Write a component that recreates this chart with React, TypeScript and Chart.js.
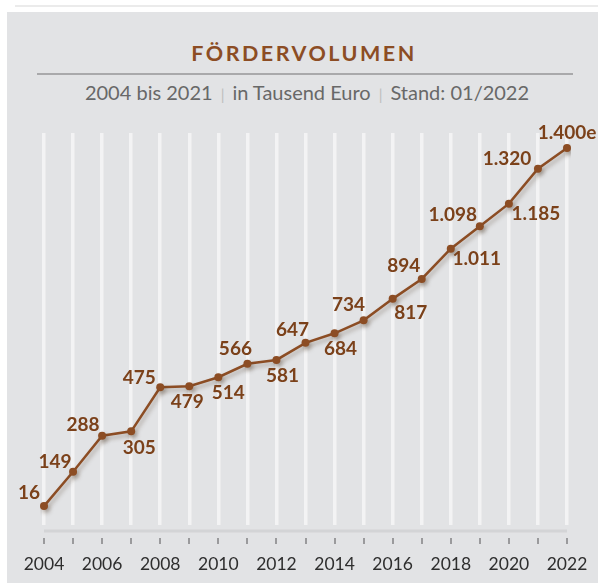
import React, { useEffect, useRef } from 'react';
import { Chart, registerables } from 'chart.js';

Chart.register(...registerables);

const YEARS = ['2004', '2005', '2006', '2007', '2008', '2009', '2010', '2011', '2012', '2013', '2014', '2015', '2016', '2017', '2018', '2019', '2020', '2021', '2022'];
const VALUES = [16, 149, 288, 305, 475, 479, 514, 566, 581, 647, 684, 734, 817, 894, 1011, 1098, 1185, 1320, 1400];
const ESTIMATED = [false, false, false, false, false, false, false, false, false, false, false, false, false, false, false, false, false, false, true];
// label placement relative to each point (dx, dy in px)
const LABEL_OFFSETS: [number, number][] = [
  [-15, -13], [-18, -10], [-19, -11], [8, 17], [-21, -9], [-2, 16], [10, 16], [-12, -15], [6, 16], [-13, -13],
  [6, 16], [-15, -15], [18, 14], [-18, -13], [26, 10], [-27, -11], [27, 10], [-31, -10], [0, -15],
];

const TITLE = 'FÖRDERVOLUMEN';
const SUBTITLE_PARTS = ['2004 bis 2021', 'in Tausend Euro', 'Stand: 01/2022'];

const BROWN = '#8c4d24';
const LABEL_BROWN = '#7b411a';
const FONT = 'Lato, "Open Sans", sans-serif';

function formatDe(v: number): string {
  const s = Math.round(v).toString();
  return s.replace(/\B(?=(\d{3})+(?!\d))/g, '.');
}

const decorPlugin = {
  id: 'decor',
  beforeDatasetsDraw(chart: any) {
    const ctx = chart.ctx;
    const xs = chart.scales.x;
    const area = chart.chartArea;
    ctx.save();
    ctx.strokeStyle = '#d3d4d6';
    ctx.lineWidth = 3;
    ctx.beginPath();
    ctx.moveTo(xs.getPixelForTick(0), area.bottom + 6);
    ctx.lineTo(xs.getPixelForTick(YEARS.length - 1), area.bottom + 6);
    ctx.stroke();
    ctx.strokeStyle = '#9a9a9c';
    ctx.lineWidth = 2;
    for (let i = 0; i < YEARS.length; i++) {
      const x = Math.round(xs.getPixelForTick(i));
      ctx.beginPath();
      ctx.moveTo(x, area.bottom + 13);
      ctx.lineTo(x, area.bottom + 19);
      ctx.stroke();
    }
    ctx.restore();
    ctx.save();
    ctx.shadowColor = 'rgba(70,50,30,0.35)';
    ctx.shadowBlur = 4;
    ctx.shadowOffsetX = 2;
    ctx.shadowOffsetY = 3;
  },
  afterDatasetsDraw(chart: any) {
    const ctx = chart.ctx;
    ctx.restore();
    const meta = chart.getDatasetMeta(0);
    ctx.save();
    ctx.font = `bold 19px ${FONT}`;
    ctx.fillStyle = LABEL_BROWN;
    ctx.textAlign = 'center';
    ctx.textBaseline = 'middle';
    meta.data.forEach((pt: any, i: number) => {
      const [dx, dy] = LABEL_OFFSETS[i];
      const txt = formatDe(VALUES[i]) + (ESTIMATED[i] ? 'e' : '');
      ctx.fillText(txt, pt.x + dx, pt.y + dy);
    });
    ctx.restore();
  },
};

export default function App() {
  const ref = useRef<HTMLCanvasElement | null>(null);

  useEffect(() => {
    if (!ref.current) return;
    const chart = new Chart(ref.current, {
      type: 'line',
      data: {
        labels: YEARS,
        datasets: [
          {
            data: VALUES,
            borderColor: BROWN,
            backgroundColor: BROWN,
            borderWidth: 2.5,
            pointRadius: 4,
            pointBackgroundColor: BROWN,
            pointBorderWidth: 0,
            tension: 0,
            fill: false,
          },
        ],
      },
      options: {
        animation: false,
        responsive: false,
        maintainAspectRatio: false,
        layout: { padding: { left: 44, right: 31, top: 133, bottom: 0 } },
        plugins: {
          legend: { display: false },
          tooltip: { enabled: false },
          title: { display: false },
        },
        scales: {
          x: {
            type: 'category',
            offset: false,
            border: { display: false },
            grid: { color: '#f3f3f4', lineWidth: 3.5, drawTicks: false },
            afterFit: (s: any) => {
              s.height = 63;
              s.paddingLeft = 0;
              s.paddingRight = 0;
            },
            ticks: {
              autoSkip: false,
              maxRotation: 0,
              padding: 29,
              color: '#2e2e2e',
              font: { family: FONT, size: 17.5 },
              callback: (_v: any, i: number) => (i % 2 === 0 ? YEARS[i] : ''),
            },
          },
          y: {
            display: false,
            min: -57,
            max: 1458,
          },
        },
      },
      plugins: [decorPlugin],
    });
    return () => chart.destroy();
  }, []);

  return (
    <div style={{ position: 'fixed', left: 0, top: 0, width: 598, height: 588, background: '#ffffff', overflow: 'hidden', fontFamily: FONT }}>
      <div style={{ position: 'absolute', left: 15, top: 5, width: 583, height: 2, background: '#ebebeb' }} />
      <div style={{ position: 'absolute', left: 7, top: 12, width: 591, height: 571, background: '#e2e3e5' }} />
      <div
        style={{
          position: 'absolute',
          left: 0,
          width: 608,
          top: 38,
          textAlign: 'center',
          color: BROWN,
          fontWeight: 700,
          fontSize: 21.5,
          letterSpacing: 2.5,
          lineHeight: '30px',
        }}
      >
        {TITLE}
      </div>
      <div style={{ position: 'absolute', left: 37, top: 73, width: 536, height: 2, background: '#a9a9ab' }} />
      <div
        style={{
          position: 'absolute',
          left: 0,
          width: 614,
          top: 77,
          textAlign: 'center',
          color: '#686868',
          fontSize: 20,
          lineHeight: '30px',
        }}
      >
        {SUBTITLE_PARTS.map((p, i) => (
          <span key={i}>
            {i > 0 && <span style={{ color: '#bdbdbd', margin: '0 8px', fontSize: 15 }}>|</span>}
            {p}
          </span>
        ))}
      </div>
      <canvas ref={ref} width={598} height={588} style={{ position: 'absolute', left: 0, top: 0, width: 598, height: 588 }} />
    </div>
  );
}
